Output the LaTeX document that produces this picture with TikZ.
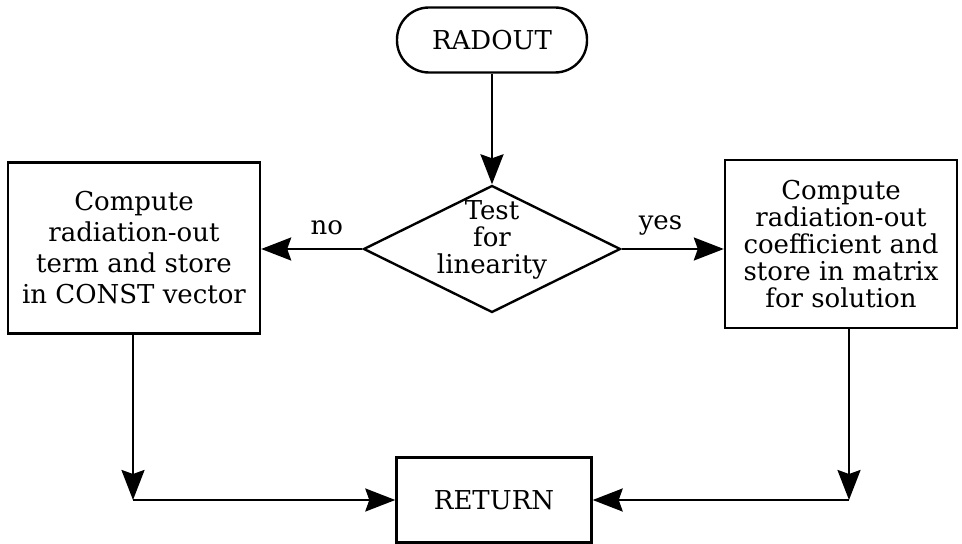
\documentclass[tikz,border=0pt]{standalone}
\usepackage{fontspec}
\setmainfont{DejaVu Serif}
\usetikzlibrary{shapes.geometric,arrows.meta}

\begin{document}
\begin{tikzpicture}[x=0.5pt,y=-0.5pt]
    \tikzstyle{every node}=[font={\fontsize{13}{15.5}\selectfont}]
    \tikzstyle{terminal}=[draw, line width=1.2pt, rounded corners=16pt, minimum width=95pt, minimum height=32.5pt]
    \tikzstyle{process}=[draw, line width=1.2pt, align=center, inner sep=0pt]
    \tikzstyle{decision}=[draw, line width=1.2pt, diamond, minimum width=128.5pt, minimum height=63.5pt, inner sep=0pt]
    \tikzstyle{flow}=[line width=1.2pt, -{Stealth[length=15pt,width=11.5pt,inset=2pt]}]
    \useasboundingbox (0,0) rectangle (962,544);
    \node[terminal] (radout) at (492,40) {RADOUT};
    \node[decision] (test) at (492,249) {};
    \node[align=center, font={\fontsize{13}{13.5}\selectfont}] (testtext) at (492,240) {Test\\for\\linearity};
    \node[process, minimum width=126pt, minimum height=85.5pt] (constvec) at (134,248) {Compute\\radiation-out\\term and store\\in CONST vector};
    \node[process, minimum width=116pt, minimum height=84pt, font={\fontsize{13}{13.5}\selectfont}] (matrix) at (841,244) {Compute\\radiation-out\\coefficient and\\store in matrix\\for solution};
    \node[process, minimum width=97.5pt, minimum height=42.5pt] (return) at (494,500) {RETURN};
    \coordinate (leftcorner) at (133,500);
    \coordinate (rightcorner) at (849,500);
    \draw[flow] (radout.south) -- (test.north);
    \draw[flow] (test.west) -- node[above=3pt, pos=0.35] (nolabel) {no} (test.west -| constvec.east);
    \draw[flow] (test.east) -- node[above=3pt, pos=0.38] (yeslabel) {yes} (test.east -| matrix.west);
    \draw[flow] (constvec.south -| leftcorner) -- (leftcorner);
    \draw[flow] (leftcorner) -- (return.west);
    \draw[flow] (matrix.south -| rightcorner) -- (rightcorner);
    \draw[flow] (rightcorner) -- (return.east);
\end{tikzpicture}
\end{document}
